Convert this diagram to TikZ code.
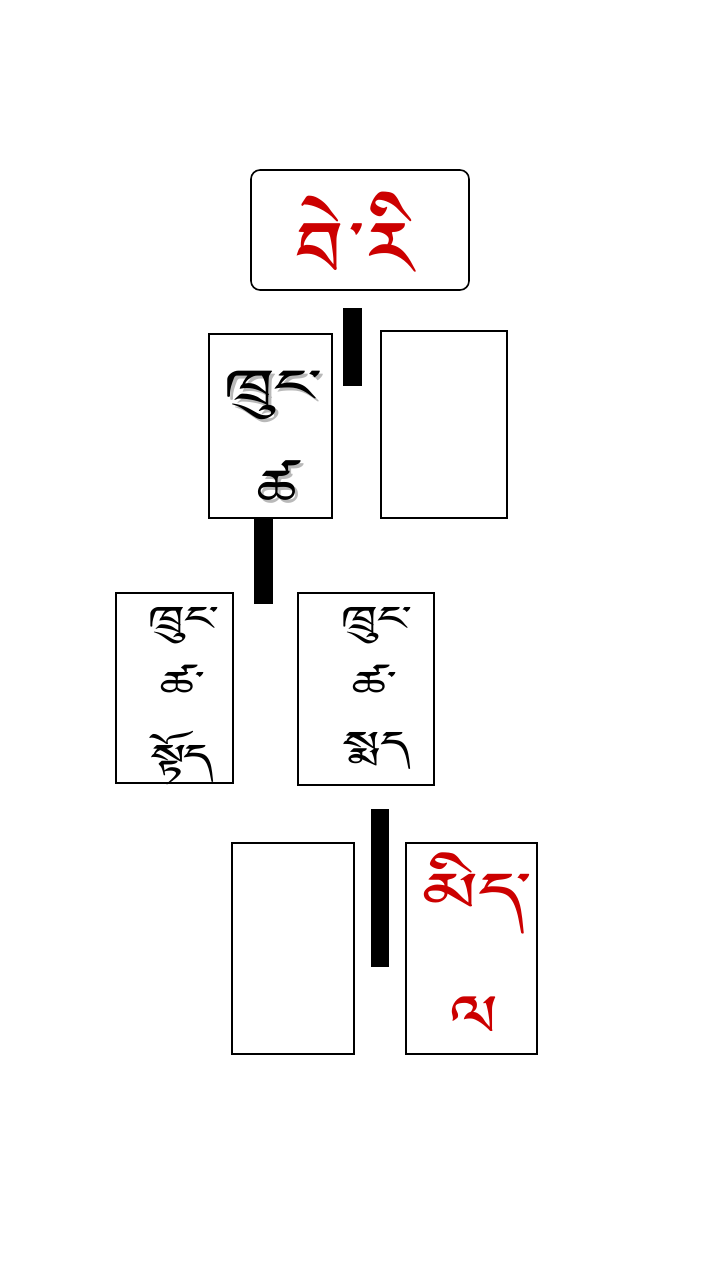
\documentclass[tikz,border=0pt]{standalone}
\usepackage{graphicx}
\usepackage{fontspec}
\IfFontExistsTF{Jomolhari}{\newfontfamily\tib[Script=Tibetan]{Jomolhari}}{%
 \IfFontExistsTF{Tibetan Machine Uni}{\newfontfamily\tib[Script=Tibetan]{Tibetan Machine Uni}}{%
  \IfFontExistsTF{Qomolangma-Uchen Sarchen}{\newfontfamily\tib[Script=Tibetan]{Qomolangma-Uchen Sarchen}}{%
   \IfFontExistsTF{FreeSerif}{\newfontfamily\tib[Script=Tibetan]{FreeSerif}}{%
    \newfontfamily\tib{DejaVu Sans}}}}}
\definecolor{tred}{HTML}{CC0000}
\newcommand{\wide}[2]{\scalebox{#1}[1]{#2}}
\newcommand{\tibshadow}[1]{\makebox[0pt][l]{\hspace{3pt}\raisebox{-3pt}{\textcolor{gray!55}{#1}}}#1}
\begin{document}
\begin{tikzpicture}[x=1pt,y=-1pt,
  box/.style={draw=black,line width=1.6pt,fill=white,inner sep=0pt},
  bar/.style={fill=black,draw=none,inner sep=0pt},
  txt/.style={inner sep=0pt,font=\tib},
  small/.style={txt,font=\tib\fontsize{42}{44}\selectfont}]
\useasboundingbox (0,0) rectangle (720,1281);
% top box
\node[box,rounded corners=9pt,minimum width=218pt,minimum height=120pt] (top) at (360,230) {};
\node[txt,text=tred,font=\tib\fontsize{100}{102}\selectfont] (toptxt) at (355,245) {བེ\hspace{5pt}་\hspace{5pt}རི};
% bars
\node[bar,minimum width=19pt,minimum height=78pt] (bar1) at (352.5,347) {};
\node[bar,minimum width=19pt,minimum height=86pt] (bar2) at (263.5,561) {};
\node[bar,minimum width=18pt,minimum height=158pt] (bar3) at (380,888) {};
% row 2
\node[box,minimum width=123pt,minimum height=184pt] (a) at (270.5,426) {};
\node[box,minimum width=126pt,minimum height=187pt] (b) at (444,424.5) {};
\node[txt,font=\tib\fontsize{56}{58}\selectfont] (a1) at (273,397) {\tibshadow{\wide{1.65}{ཁྲུང་}}};
\node[txt,font=\tib\fontsize{60}{62}\selectfont] (a2) at (277,490) {\tibshadow{\wide{1.3}{ཚ}}};
% row 3
\node[box,minimum width=117pt,minimum height=190pt] (c) at (174.5,688) {};
\node[box,minimum width=136pt,minimum height=192pt] (d) at (366,689) {};
\node[small] (c1) at (183,626) {\wide{1.6}{ཁྲུང་}};
\node[small] (c2) at (182,684) {\wide{1.6}{ཚ་}};
\node[small] (c3) at (182,758) {\wide{1.6}{སྟོད}};
\node[small] (d1) at (376,626) {\wide{1.6}{ཁྲུང་}};
\node[small] (d2) at (374,684) {\wide{1.6}{ཚ་}};
\node[small] (d3) at (377,751) {\wide{1.6}{སྨད}};
% row 4
\node[box,minimum width=122pt,minimum height=211pt] (e) at (293,948.5) {};
\node[box,minimum width=131pt,minimum height=211pt] (f) at (471.5,948.5) {};
\node[txt,text=tred,font=\tib\fontsize{68}{70}\selectfont] (f1) at (477,893) {\wide{1.5}{མིད་}};
\node[txt,text=tred,font=\tib\fontsize{74}{76}\selectfont] (f2) at (475,1024) {\wide{1.1}{ལ}};
\end{tikzpicture}
\end{document}
